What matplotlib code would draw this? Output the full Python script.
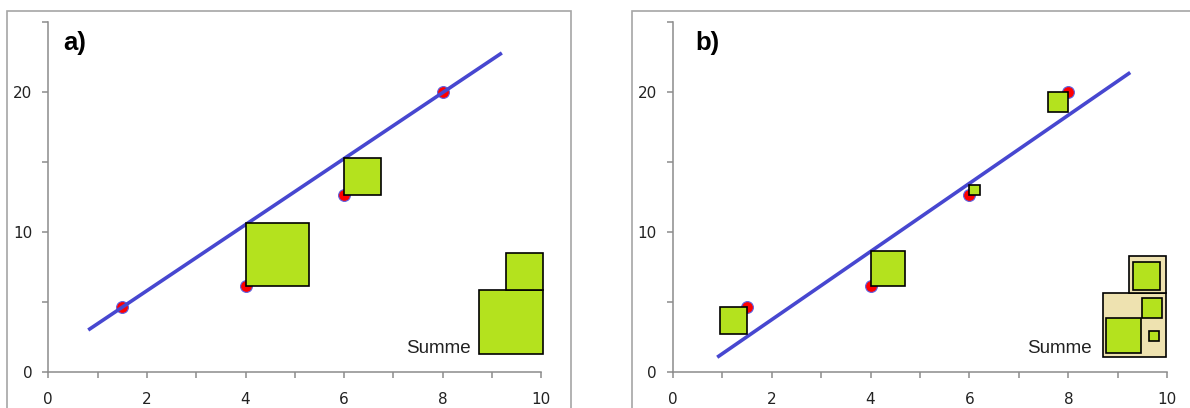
import numpy as np
import matplotlib
matplotlib.use("Agg")
import matplotlib.pyplot as plt
from matplotlib.patches import Rectangle
from matplotlib.ticker import MultipleLocator, FixedLocator

# ---- data ----
x_pts = [1.5, 4.0, 6.0, 8.0]
y_pts = [4.6, 6.1, 12.6, 20.0]

# fitted lines (start/end x, start/end y)
line_a_x = [0.81, 9.2]
line_a_y = [2.97, 22.8]
line_b_x = [0.90, 9.25]
line_b_y = [1.02, 21.4]

# residual squares: side length in y units, 0 = no square
side_a = [0.0, 4.55, 2.65, 0.0]
side_b = [1.95, 2.5, 0.75, 1.43]
# +1: square grows up/right from point, -1: grows down/left
dir_a = [1, 1, 1, 1]
dir_b = [-1, 1, 1, -1]

GREEN = "#B4E21E"
TAN = "#EEE2B0"
BLUE = "#4747D0"
GRAY = "#8C8C8C"
TXT = "#222222"

fig = plt.figure(figsize=(11.9, 4.08), dpi=100)

# outer chart frames (Excel-style chart area borders)
for x0, x1 in [(7, 570.7), (632.3, 1250)]:
    fig.patches.append(Rectangle((x0 / 1190, -0.2), (x1 - x0) / 1190, 1.2 - 11 / 408,
                                 transform=fig.transFigure, fill=False,
                                 edgecolor="#A6A6A6", linewidth=1.2))

ax_a = fig.add_axes([48.3 / 1190, 36.5 / 408, 493 / 1190, 349.3 / 408])
ax_b = fig.add_axes([672.7 / 1190, 36.5 / 408, 494.6 / 1190, 349.3 / 408])


def style_axes(ax):
    ax.set_xlim(0, 10)
    ax.set_ylim(0, 25)
    ax.patch.set_alpha(0)
    for s in ["top", "right"]:
        ax.spines[s].set_visible(False)
    for s in ["left", "bottom"]:
        ax.spines[s].set_color(GRAY)
        ax.spines[s].set_linewidth(1.1)
    ax.xaxis.set_major_locator(MultipleLocator(2))
    ax.xaxis.set_minor_locator(MultipleLocator(1))
    ax.yaxis.set_major_locator(FixedLocator([0, 10, 20]))
    ax.yaxis.set_minor_locator(FixedLocator([5, 15, 25]))
    ax.tick_params(which="both", direction="out", length=4.5, width=1.1, color=GRAY)
    ax.tick_params(axis="x", which="major", pad=10, labelsize=11, labelcolor=TXT)
    ax.tick_params(axis="y", which="major", pad=7, labelsize=11, labelcolor=TXT)
    for lab in ax.get_xticklabels() + ax.get_yticklabels():
        lab.set_fontfamily("DejaVu Sans")


def px(ax):
    p0 = ax.transData.transform((0, 0))
    p1 = ax.transData.transform((1, 1))
    return p1 - p0  # pixels per unit (x, y)


def square(ax, x, y, side_px, fc, lw=1.2, z=5):
    sx, sy = px(ax)
    ax.add_patch(Rectangle((x, y), side_px / sx, side_px / sy, facecolor=fc,
                           edgecolor="black", linewidth=lw, zorder=z, clip_on=False))


def draw_panel(ax, lx, ly, sides, dirs, label, txt_x):
    style_axes(ax)
    sx, sy = px(ax)
    ax.plot(x_pts, y_pts, "o", ms=8.5, mfc="#FF0000", mec="#6060E0", mew=0.8, zorder=3)
    ax.plot(lx, ly, color=BLUE, lw=2.6, zorder=4, solid_capstyle="butt")
    for xp, yp, s, d in zip(x_pts, y_pts, sides, dirs):
        if s <= 0:
            continue
        spx = s * sy
        if d > 0:
            square(ax, xp, yp, spx, GREEN)
        else:
            square(ax, xp - spx / sx, yp - s, spx, GREEN)
    ax.text(0.3 if label == "a)" else 0.45, 24.4, label, fontsize=18.5, fontweight="bold",
            family="Liberation Sans", va="top", ha="left", color="black")
    ax.text(txt_x, 1.68, "Summe", fontsize=13.5, family="Liberation Sans",
            ha="right", va="center", color=TXT)


draw_panel(ax_a, line_a_x, line_a_y, side_a, dir_a, "a)", 8.57)
draw_panel(ax_b, line_b_x, line_b_y, side_b, dir_b, "b)", 8.47)

# ---- Summe stack, panel a ----
sx, sy = px(ax_a)
big = side_a[1] * sy
small = side_a[2] * sy
right, bottom = 10.03, 1.25
square(ax_a, right - big / sx, bottom, big, GREEN)
square(ax_a, right - small / sx, bottom + big / sy, small, GREEN)

# ---- Summe stack, panel b: tan boxes = squares of a), green = squares of b) ----
sx, sy = px(ax_b)
right, bottom = 9.98, 1.06
bx0 = right - big / sx
square(ax_b, bx0, bottom, big, TAN)
ux0 = right - small / sx
uy0 = bottom + big / sy
square(ax_b, ux0, uy0, small, TAN)
pad = 3.4
sA, sB, sC, sD = [s * sy for s in side_b]
# upper box: square A
square(ax_b, ux0 + pad / sx, uy0 + pad / sy, sA, GREEN, z=6)
# lower box: B bottom-left, D top-right, C lower-right
square(ax_b, bx0 + pad / sx, bottom + pad / sy, sB, GREEN, z=6)
square(ax_b, right - (4.3 + sD) / sx, bottom + (big - 4.5 - sD) / sy, sD, GREEN, z=6)
square(ax_b, right - (7.3 + sC) / sx, bottom + 15.4 / sy, sC, GREEN, z=6)

fig.savefig("out.png", dpi=100)
